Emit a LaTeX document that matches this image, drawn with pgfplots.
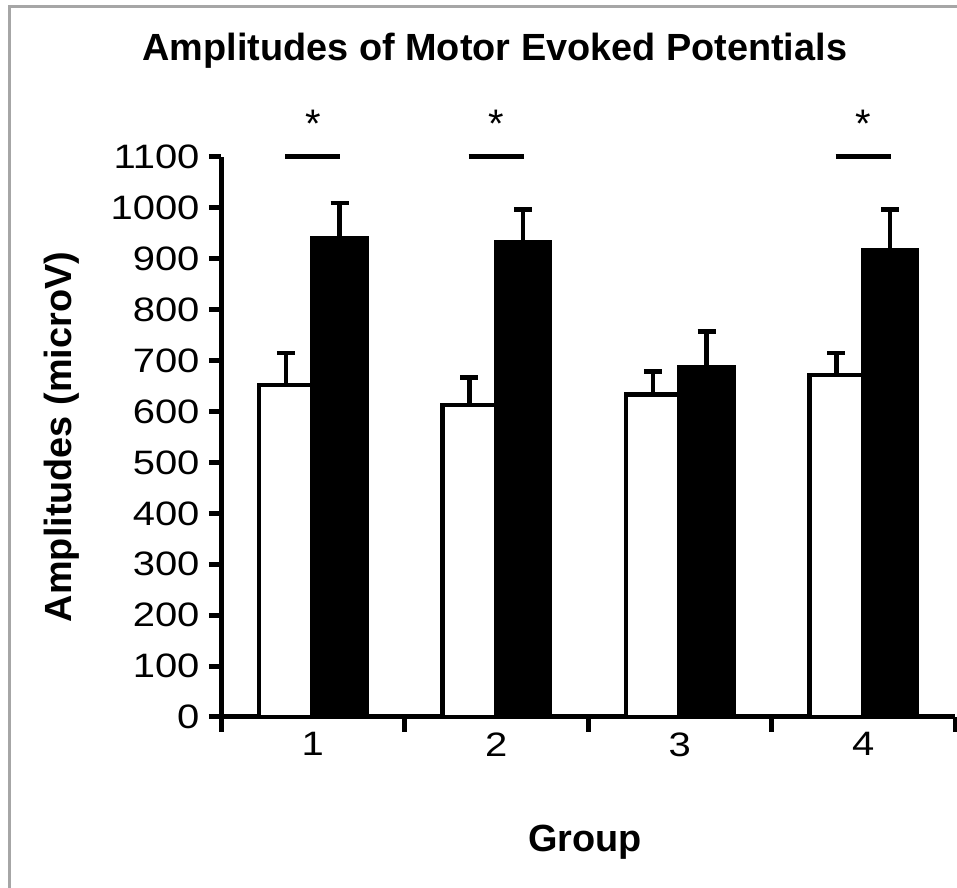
\documentclass[border=0pt]{standalone}
\usepackage{fontspec}
\setmainfont{Liberation Sans}
\usepackage{graphicx}
\usepackage{pgfplots}
\pgfplotsset{compat=1.18}
\begin{document}
\begin{tikzpicture}[x=1bp,y=1bp]
\useasboundingbox (0,0) rectangle (957,888);
\draw[line width=3bp, color=black!35] (9.5,0) -- (9.5,881.5) -- (957,881.5);
\begin{axis}[
  at={(221bp,171bp)}, anchor=south west,
  scale only axis, width=734bp, height=560bp,
  xmin=0.5, xmax=4.5, ymin=0, ymax=1100,
  clip=false,
  axis lines*=left,
  axis line style={line width=5bp, black},
  xtick={1,2,3,4},
  major x tick style={draw=none},
  minor xtick={0.5,1.5,2.5,3.5,4.5},
  ytick={0,100,...,1100},
  tick align=outside, tick pos=left,
  major tick length=12bp, minor tick length=15bp,
  every tick/.style={line width=5bp, black},
  ticklabel style={font=\fontsize{34}{34}\selectfont},
  yticklabel={\scalebox{1.18}[1]{\pgfmathprintnumber[assume math mode=true,1000 sep={}]{\tick}}},
  xticklabel={\scalebox{1.18}[1]{\pgfmathprintnumber[assume math mode=true]{\tick}}},
  yticklabel style={xshift=-6bp},
  title={Amplitudes of Motor Evoked Potentials},
  title style={font=\fontsize{38}{44}\selectfont\bfseries, at={(axis description cs:0.373,1.179)}, anchor=center},
  xlabel={Group},
  xlabel style={font=\fontsize{38}{44}\selectfont\bfseries, at={(axis description cs:0.496,-0.223)}, anchor=center},
  ylabel={Amplitudes (microV)},
  ylabel style={font=\fontsize{38}{44}\selectfont\bfseries, at={(axis description cs:-0.2166,0.5)}, anchor=center},
]
% control (white), plotted at group - 0.147
\addplot[ybar, bar width=54bp, bar shift=0bp, fill=white, draw=black, line width=4.5bp,
  error bars/.cd, y dir=plus, y explicit,
  error bar style={line width=4.5bp, black, solid},
  error mark options={rotate=90, mark size=9bp, line width=4.5bp, black, solid}]
  coordinates {(0.853,652) +- (0,63) (1.853,613) +- (0,54) (2.853,633) +- (0,46) (3.853,672) +- (0,43)};
% treatment (black), plotted at group + 0.147
\addplot[ybar, bar width=54bp, bar shift=0bp, fill=black, draw=black, line width=4.5bp,
  error bars/.cd, y dir=plus, y explicit,
  error bar style={line width=4.5bp, black, solid},
  error mark options={rotate=90, mark size=9bp, line width=4.5bp, black, solid}]
  coordinates {(1.147,940) +- (0,70) (2.147,932) +- (0,65) (3.147,687) +- (0,70) (4.147,917) +- (0,80)};
% significance lines
\addplot[sharp plot, no marks, line width=5bp, black] coordinates {(0.85,1100) (1.15,1100)};
\addplot[sharp plot, no marks, line width=5bp, black] coordinates {(1.85,1100) (2.15,1100)};
\addplot[sharp plot, no marks, line width=5bp, black] coordinates {(3.85,1100) (4.15,1100)};
\node at (axis cs:1,1165) {\fontsize{40}{40}\selectfont *};
\node at (axis cs:2,1165) {\fontsize{40}{40}\selectfont *};
\node at (axis cs:4,1165) {\fontsize{40}{40}\selectfont *};
\end{axis}
\end{tikzpicture}
\end{document}
